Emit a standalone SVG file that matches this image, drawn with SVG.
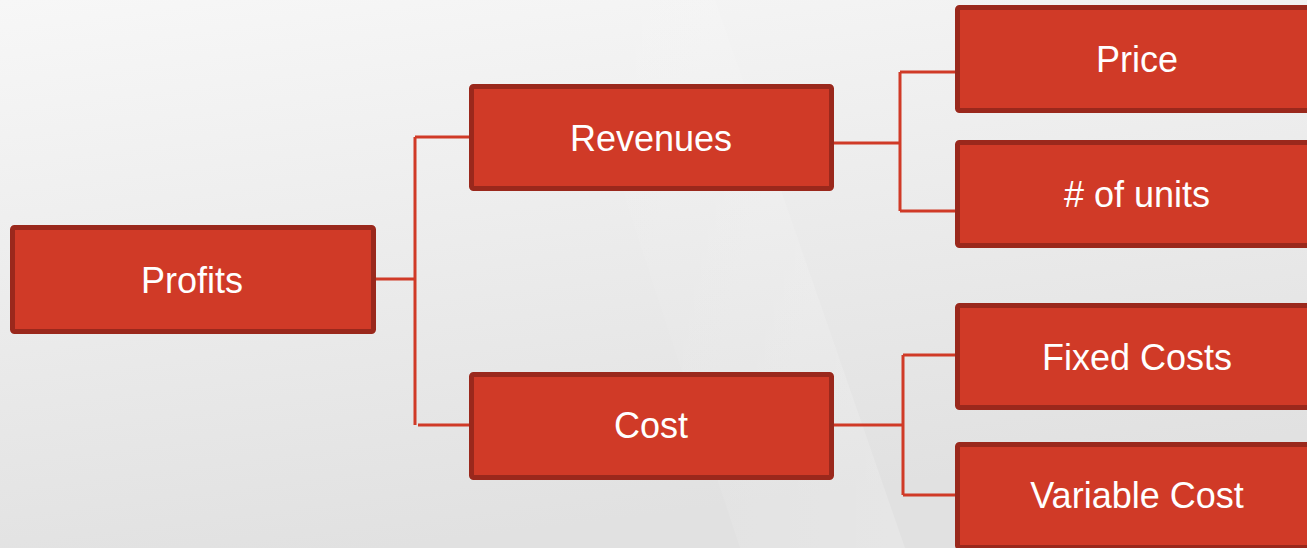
<svg xmlns="http://www.w3.org/2000/svg" width="1307" height="548" viewBox="0 0 1307 548">
<defs>
<linearGradient id="bg" x1="0" y1="0" x2="0.3" y2="1">
<stop offset="0" stop-color="#f7f7f7"/>
<stop offset="1" stop-color="#e1e1e1"/>
</linearGradient>
<linearGradient id="sheen" x1="0" y1="0" x2="1" y2="0">
<stop offset="0" stop-color="#ffffff" stop-opacity="0"/>
<stop offset="1" stop-color="#ffffff" stop-opacity="0.35"/>
</linearGradient>
</defs>
<style>
.box{fill:#d03a27;stroke:#9a281c;stroke-width:5}
.lbl{font-family:"Liberation Sans",Arial,sans-serif;font-size:36px;fill:#ffffff;text-anchor:middle}
.con{fill:none;stroke:#d03a27;stroke-width:3}
</style>
<rect width="1307" height="548" fill="url(#bg)"/>
<polygon points="560,0 715,0 905,548 740,548" fill="url(#sheen)" opacity="0.5"/>
<g id="connectors">
<path class="con" d="M375,279 H415 M415,137 V425 M415,137 H469 M418,425 H469"/>
<path class="con" d="M833,143 H900 M900,72 V211 M900,72 H955 M900,211 H955"/>
<path class="con" d="M833,425 H903 M903,355 V495 M903,355 H955 M903,495 H955"/>
</g>
<g id="profits"><rect class="box" x="12.5" y="227.5" width="361" height="104" rx="2"/><text class="lbl" x="192" y="293">Profits</text></g>
<g id="revenues"><rect class="box" x="471.5" y="86.5" width="360" height="102" rx="2"/><text class="lbl" x="651" y="151">Revenues</text></g>
<g id="cost"><rect class="box" x="471.5" y="374.5" width="360" height="103" rx="2"/><text class="lbl" x="651" y="438">Cost</text></g>
<g id="price"><rect class="box" x="957.5" y="7.5" width="365" height="103" rx="2"/><text class="lbl" x="1137" y="72">Price</text></g>
<g id="units"><rect class="box" x="957.5" y="142.5" width="365" height="103" rx="2"/><text class="lbl" x="1137" y="207">&#35; of units</text></g>
<g id="fixed"><rect class="box" x="957.5" y="305.5" width="365" height="102" rx="2"/><text class="lbl" x="1137" y="370">Fixed Costs</text></g>
<g id="variable"><rect class="box" x="957.5" y="444.5" width="365" height="103" rx="2"/><text class="lbl" x="1137" y="508">Variable Cost</text></g>
</svg>
